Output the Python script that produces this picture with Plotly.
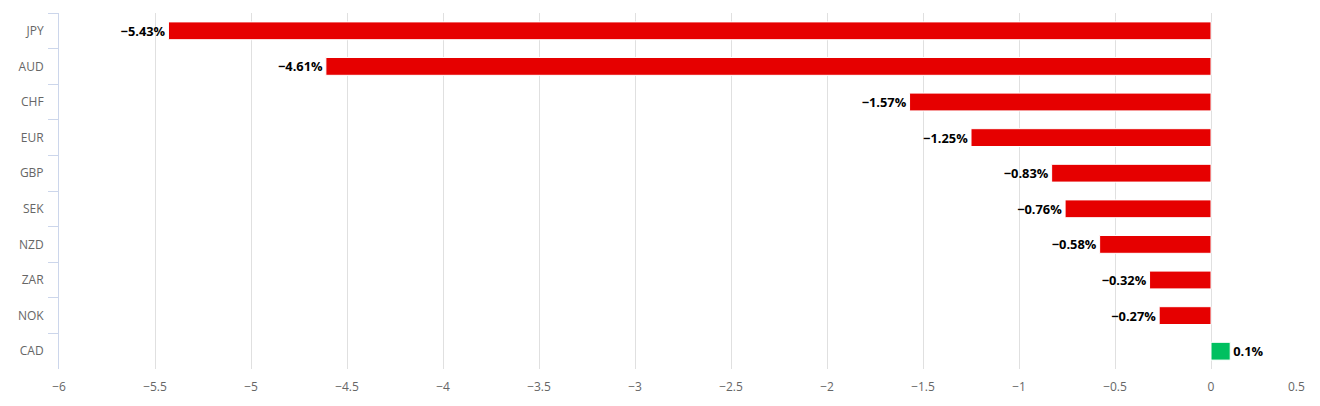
import plotly.graph_objects as go

currencies = ["JPY", "AUD", "CHF", "EUR", "GBP", "SEK", "NZD", "ZAR", "NOK", "CAD"]
changes = [-5.43, -4.61, -1.57, -1.25, -0.83, -0.76, -0.58, -0.32, -0.27, 0.1]
x_ticks = [-6, -5.5, -5, -4.5, -4, -3.5, -3, -2.5, -2, -1.5, -1, -0.5, 0, 0.5]

colors = ["#00c060" if v > 0 else "#e60000" for v in changes]
labels = [("\u2212" if v < 0 else "") + f"{abs(v):g}%" for v in changes]
tick_text = [("\u2212" if t < 0 else "") + f"{abs(t):g}" for t in x_ticks]
last_tick_label = tick_text[-1]
tick_text[-1] = ""

FONT = "Open Sans, DejaVu Sans, sans-serif"

fig = go.Figure(go.Bar(
    x=changes, y=currencies, orientation="h",
    marker=dict(color=colors, line=dict(color="#ffffff", width=1)),
    width=0.5,
    text=labels, textposition="outside", cliponaxis=False,
    textfont=dict(family=FONT, size=13, color="#000000", weight="bold"),
    hoverinfo="skip",
))

fig.update_layout(
    width=1320, height=406,
    margin=dict(l=51, r=21, t=5, b=45, autoexpand=False),
    paper_bgcolor="#ffffff", plot_bgcolor="#ffffff",
    showlegend=False,
    font=dict(family=FONT, size=12, color="#666666"),
    bargap=0.5,
)
fig.update_xaxes(
    range=[-6, 0.5], tickvals=x_ticks, ticktext=tick_text,
    showgrid=True, gridcolor="#e0e0e0", gridwidth=1,
    zeroline=False, showline=False, ticks="", automargin=False,
    ticklabelstandoff=9,
    tickfont=dict(size=12, color="#666666"),
)
fig.update_yaxes(
    categoryorder="array", categoryarray=currencies, autorange="reversed",
    showline=True, linecolor="#ccd6eb", linewidth=1,
    ticks="outside", tickson="boundaries", ticklen=10, tickcolor="#ccd6eb",
    ticklabelstandoff=12, automargin=False,
    showgrid=False, zeroline=False,
    tickfont=dict(size=12, color="#666666"),
)
fig.add_annotation(
    x=1, xref="paper", y=0, yref="paper", yshift=-7,
    text=last_tick_label, showarrow=False,
    xanchor="right", yanchor="top",
    font=dict(family=FONT, size=12, color="#666666"),
)

fig.write_html("out.html")
